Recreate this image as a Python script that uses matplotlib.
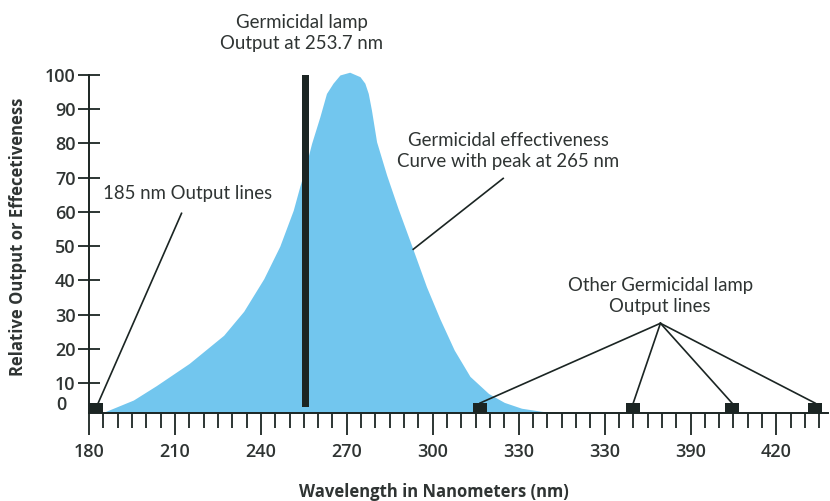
import matplotlib
matplotlib.use("Agg")
import matplotlib.pyplot as plt
from matplotlib.ticker import MultipleLocator
import matplotlib.transforms as mtransforms

# ---- data ----
x_ticks = [180, 210, 240, 270, 300, 330, 360, 390, 420]
x_tick_labels = ["180", "210", "240", "270", "300", "330", "330", "390", "420"]
y_ticks = [10, 20, 30, 40, 50, 60, 70, 80, 90, 100]
y_tick_labels = ["10", "20", "30", "40", "50", "60", "70", "80", "90", "100"]

curve_nm = [185, 195.5, 203.5, 215, 227, 234, 241, 246.6, 251.3, 253.6, 255.4,
            257.7, 260.6, 262.9, 265.2, 267.6, 271, 274.6, 276.3, 277.5, 278.6,
            280.4, 283.9, 287.9, 292.5, 297.8, 302.5, 307.5, 313, 319.5, 325,
            331, 338, 344]
curve_val = [1.5, 5.1, 9.3, 15.8, 24.0, 31.0, 40.5, 50.0, 60.5, 67.5, 72.5,
             80.0, 87.8, 94.6, 97.6, 100.0, 100.8, 99.5, 97.6, 94.6, 89.8,
             80.5, 70.8, 61.0, 50.5, 38.2, 28.8, 19.7, 12.0, 7.0, 4.4, 2.7,
             1.8, 1.3]

lamp_nm = 255.5          # main germicidal lamp line (drawn position)
lamp_top = 100
line185_nm = 182.5       # 185 nm output line
other_lines_nm = [316.5, 370.0, 404.5, 433.5]

baseline = 1.3
square_h = 2.9
square_w = 5.0

dark = "#1b2523"
blue = "#72c6ee"
txt = "#2f3433"

fig = plt.figure(figsize=(8.30, 5.01), dpi=100)
ax = fig.add_axes([89 / 830, 0.1756, 739 / 830, 0.6953])
ax.set_xlim(180, 438)
ax.set_ylim(baseline, 103)

# effectiveness curve
ax.fill_between(curve_nm, baseline, curve_val, color=blue, lw=0, zorder=2)

# main lamp bar
ax.bar([lamp_nm], [lamp_top - 3.2], bottom=3.2, width=2.5, color=dark, zorder=4)

# output line squares
sq_x = [line185_nm] + other_lines_nm
ax.bar(sq_x, [square_h] * len(sq_x), bottom=baseline, width=square_w,
       color=dark, zorder=4, clip_on=False)

# spines / ticks
for s in ["top", "right"]:
    ax.spines[s].set_visible(False)
ax.spines["left"].set_bounds(baseline, 100)
ax.spines["left"].set_color(dark)
ax.spines["bottom"].set_color(dark)
ax.spines["left"].set_linewidth(1.4)
ax.spines["bottom"].set_linewidth(1.4)

ax.set_xticks(x_ticks)
ax.set_xticklabels(x_tick_labels)
ax.xaxis.set_minor_locator(MultipleLocator(5))
ax.tick_params(axis="x", which="major", direction="out", length=15.5, width=1.3,
               color=dark, pad=6, labelsize=13, labelcolor=txt)
ax.tick_params(axis="x", which="minor", direction="out", length=10.5, width=1.3,
               color=dark)
ax.set_yticks(y_ticks)
ax.set_yticklabels(y_tick_labels)
ax.tick_params(axis="y", which="major", direction="inout", length=15.5, width=1.3,
               color=dark, pad=2, labelsize=13, labelcolor=txt)
for lab in ax.get_xticklabels() + ax.get_yticklabels():
    lab.set_fontfamily("Open Sans")
    lab.set_fontweight("semibold")

# "0" label
trans = mtransforms.blended_transform_factory(ax.transAxes, ax.transData)
ax.text(-0.0302, 3.7, "0", transform=trans, ha="right", va="center",
        fontsize=13, fontfamily="Open Sans", fontweight="semibold", color=txt)

# annotation lines
lw_a = 1.2
ax.plot([212.3, 183.2], [59.6, 4.2], color=dark, lw=lw_a, zorder=5)
ax.plot([324.6, 293.2], [69.8, 49.1], color=dark, lw=lw_a, zorder=5)
for xx in other_lines_nm:
    ax.plot([379.5, xx], [27.5, baseline + square_h], color=dark, lw=lw_a,
            zorder=5, clip_on=False)

tk = dict(fontsize=13.4, fontfamily="Lato", color=txt, linespacing=1.32,
          clip_on=False)
ax.text(254.2, 112.2, "Germicidal lamp\nOutput at 253.7 nm", ha="center",
        va="center", **tk)
ax.text(326.4, 77.8, "Germicidal effectiveness\nCurve with peak at 265 nm",
        ha="center", va="center", **tk)
ax.text(184.8, 65.3, "185 nm Output lines", ha="left", va="center", **tk)
ax.text(379.4, 35.5, "Other Germicidal lamp\nOutput lines", ha="center",
        va="center", **tk)

fig.text(0.523, 0.0186, "Wavelength in Nanometers (nm)", ha="center",
         va="center", fontsize=12, fontweight="bold", fontfamily="Open Sans",
         color=txt)
fig.text(0.0217, 0.5275, "Relative Output or Effecetiveness", ha="center",
         va="center", rotation=90, fontsize=12, fontweight="bold",
         fontfamily="Open Sans", color=txt)

fig.savefig("out.png", dpi=100)
